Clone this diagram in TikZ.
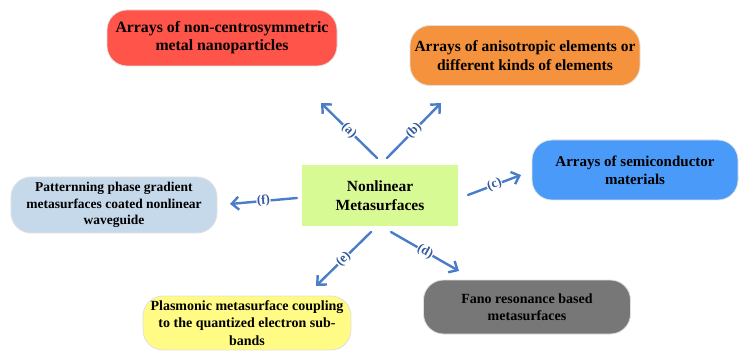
\documentclass[tikz,border=0pt]{standalone}
\usepackage{fontspec}
\setmainfont{Liberation Serif}
\usepackage{tikz}
\tikzset{>=latex}
\usetikzlibrary{arrows.meta}
\definecolor{boxred}{HTML}{FF5449}
\definecolor{boxorange}{HTML}{F5923E}
\definecolor{boxblue}{HTML}{4A9AF9}
\definecolor{boxpale}{HTML}{C6D9EB}
\definecolor{boxyellow}{HTML}{FFFB84}
\definecolor{boxgray}{HTML}{777777}
\definecolor{boxgreen}{HTML}{D8FA94}
\definecolor{arrowblue}{HTML}{4A7DC9}
\definecolor{labelblue}{HTML}{34589C}
\newcommand{\bsize}[2]{\fontsize{#1}{#2}\selectfont\bfseries}
\tikzset{
  topic/.style={rounded corners=20pt,draw=black!12,line width=0.8pt,align=center,inner sep=2pt},
  core/.style={fill=boxgreen,align=center,minimum width=156pt,minimum height=61pt,
    font=\bsize{15.5}{19}},
  tag/.style={sloped,fill=white,inner sep=0.6pt,text=labelblue,font=\bsize{13}{13}}
}
\begin{document}
\begin{tikzpicture}[line cap=round,line join=round,>={Straight Barb[length=7pt,width=13pt]},x=1.0pt,y=-1.0pt]
	\useasboundingbox (0,0) rectangle (751,352);
	\node[core] (nl) at (380,195.5) {Nonlinear\\Metasurfaces};
	\node[topic,fill=boxred,minimum width=230pt,minimum height=56pt,font=\bsize{15.8}{18}] (ta) at (222,38) {Arrays of non-centrosymmetric\\metal nanoparticles};
	\node[topic,fill=boxorange,minimum width=230pt,minimum height=60pt,font=\bsize{15.5}{18.3}] (tb) at (525,55.5) {Arrays of anisotropic elements or\\different kinds of elements};
	\node[topic,fill=boxblue,minimum width=206pt,minimum height=60pt,font=\bsize{15}{18.3}] (tc) at (635,170) {Arrays of semiconductor\\materials};
	\node[topic,fill=boxgray,minimum width=207pt,minimum height=54pt,font=\bsize{14}{16.7}] (td) at (527,307) {Fano resonance based\\metasurfaces};
	\node[topic,fill=boxyellow,minimum width=208pt,minimum height=54pt,font=\bsize{14}{17.3}] (te) at (247,323) {Plasmonic metasurface coupling\\to the quantized electron sub-\\bands};
	\node[topic,fill=boxpale,minimum width=206pt,minimum height=56pt,font=\bsize{13.5}{16.7}] (tf) at (114,205) {Patternning phase gradient\\metasurfaces coated nonlinear\\waveguide};
	% arrow ends
	\coordinate (sa) at (377,158); \coordinate (ea) at (321,103);
	\coordinate (sb) at (387,158); \coordinate (eb) at (441,103);
	\coordinate (sc) at (468,195); \coordinate (ec) at (521,175);
	\coordinate (sd) at (391,232); \coordinate (ed) at (459,271);
	\coordinate (se) at (371,232); \coordinate (ee) at (316,286);
	\coordinate (sf) at (297,198); \coordinate (ef) at (230,204);
	\foreach \s/\e/\t in {sa/ea/a,sb/eb/b,sc/ec/c,sd/ed/d,se/ee/e,sf/ef/f}
	\draw[->,color=arrowblue,line width=2.4pt] (\s) -- node[tag] {(\t)} (\e);
\end{tikzpicture}
\end{document}
